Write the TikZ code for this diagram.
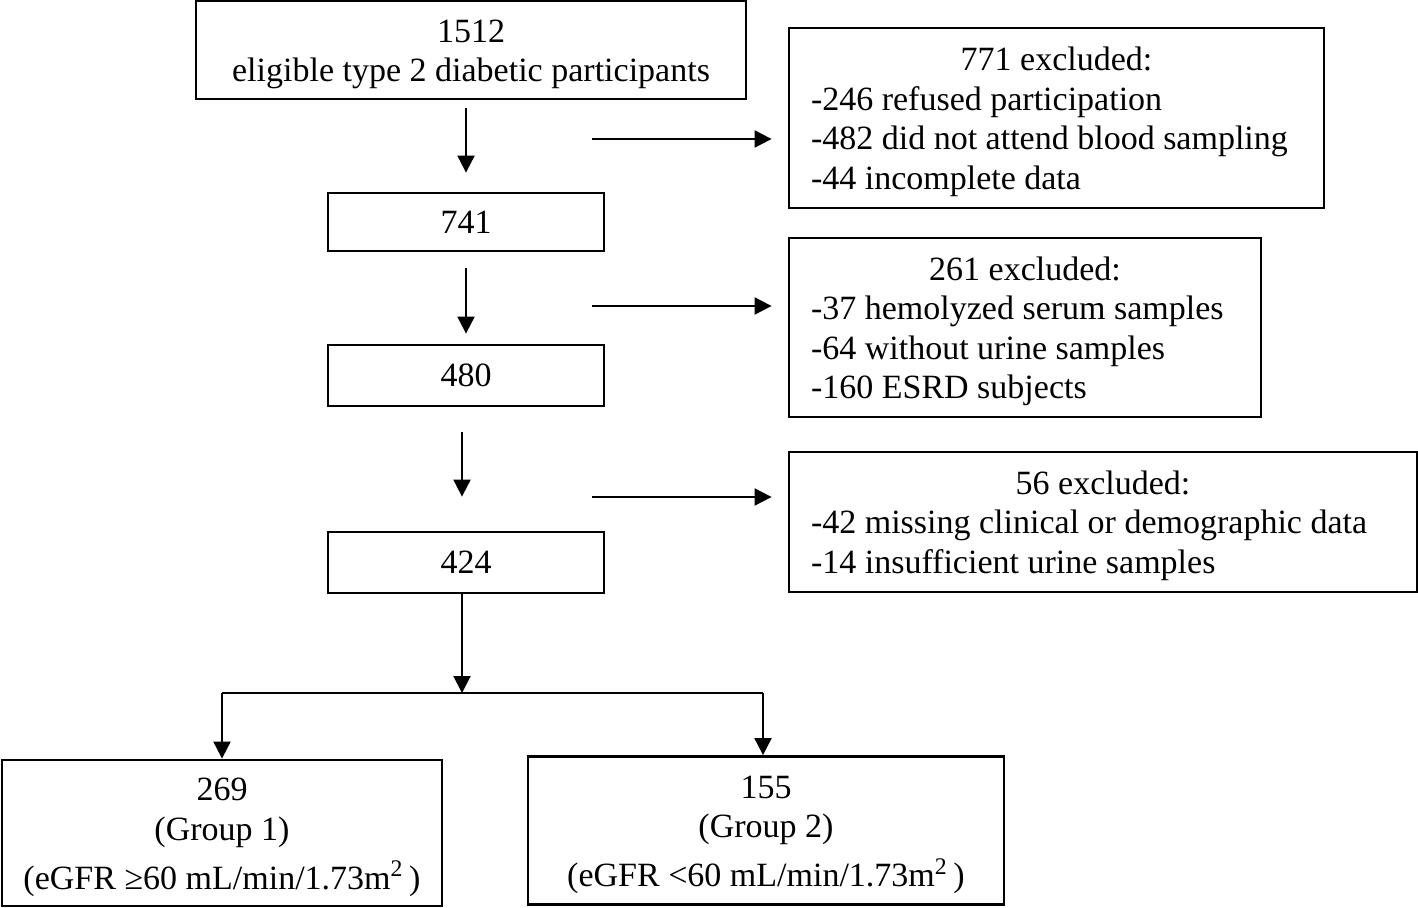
\documentclass[tikz,border=0pt]{standalone}
\usepackage{fontspec}
\setmainfont{Liberation Serif}
\usetikzlibrary{arrows.meta}
\newcommand{\boxstrut}{\rule{0pt}{15.6pt}}
\begin{document}
\begin{tikzpicture}[x=0.5pt, y=-0.5pt,
  box/.style={draw=black, line width=1.4pt, inner sep=0pt, align=center, font=\fontsize{17pt}{19.8pt}\selectfont},
  exbox/.style={draw=black, line width=1.4pt, inner xsep=11pt, inner ysep=0pt, align=flush left, font=\fontsize{17pt}{19.8pt}\selectfont},
  arr/.style={draw=black, line width=1pt, -{Triangle[length=8.5pt, width=8.5pt]}}]
\useasboundingbox (0,0) rectangle (1418,908);
% main column
\node[box, minimum width=275pt, minimum height=49pt] (n1512) at (471,50) {\boxstrut 1512\\eligible type 2 diabetic participants};
\node[box, minimum width=138pt, minimum height=29pt] (n741) at (466,222) {741};
\node[box, minimum width=138pt, minimum height=30.5pt] (n480) at (466,375.5) {480};
\node[box, minimum width=138pt, minimum height=30.5pt] (n424) at (466,562.5) {424};
% exclusions
\node[exbox, text width=245.5pt, minimum height=90pt] (ex771) at (1056.5,118) {\boxstrut\hspace*{\fill}771 excluded:\hspace*{\fill}\null\\-246 refused participation\\-482 did not attend blood sampling\\-44 incomplete data};
\node[exbox, text width=214pt, minimum height=89.5pt] (ex261) at (1025,327.5) {\boxstrut\hspace*{\fill}261 excluded:\hspace*{\fill}\null\\-37 hemolyzed serum samples\\-64 without urine samples\\-160 ESRD subjects};
\node[exbox, text width=292pt, minimum height=70pt] (ex56) at (1103,522) {\boxstrut\hspace*{\fill}56 excluded:\hspace*{\fill}\null\\-42 missing clinical or demographic data\\-14 insufficient urine samples};
% groups
\node[box, minimum width=220pt, minimum height=73pt] (grp1) at (222,833) {\boxstrut 269\\(Group 1)\\[4.5pt](eGFR ≥60 mL/min/1.73m\textsuperscript{2}\,)};
\node[box, minimum width=238pt, minimum height=74pt] (grp2) at (766,830.5) {\boxstrut 155\\(Group 2)\\[4.5pt](eGFR <60 mL/min/1.73m\textsuperscript{2}\,)};
% arrows
\coordinate (split) at (462,693);
\coordinate (gl) at (222,693);
\coordinate (gr) at (763,693);
\coordinate (h1) at (592,139);
\coordinate (h2) at (592,306);
\coordinate (h3) at (592,497);
\draw[arr, shorten <=4pt, shorten >=9.5pt] (n1512.south -| n741) -- (n741);
\draw[arr, shorten <=8pt, shorten >=5pt] (n741) -- (n480);
\draw[arr, shorten <=12.5pt, shorten >=17pt] (n480.south -| split) -- (n424.north -| split);
\draw[arr] (n424.south -| split) -- (split);
\draw[arr, shorten >=8pt] (h1) -- (h1 -| ex771.west);
\draw[arr, shorten >=8pt] (h2) -- (h2 -| ex261.west);
\draw[arr, shorten >=8pt] (h3) -- (h3 -| ex56.west);
\draw[line width=1pt] (gl) -- (gr);
\draw[arr] (gl) -- (gl |- grp1.north);
\draw[arr] (gr) -- (gr |- grp2.north);
\end{tikzpicture}
\end{document}
